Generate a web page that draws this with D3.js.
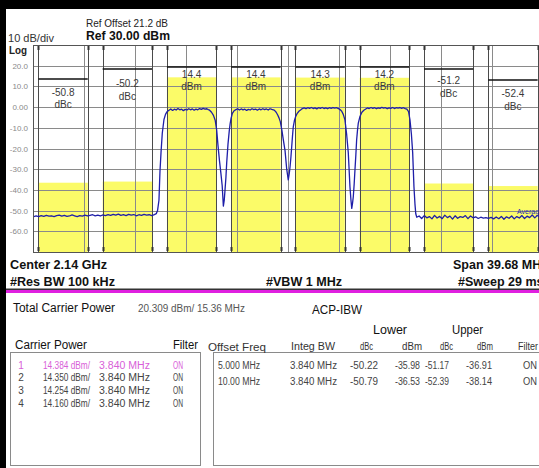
<!DOCTYPE html>
<html><head><meta charset="utf-8">
<script src="https://cdn.jsdelivr.net/npm/d3@7"></script>
<style>
html,body{margin:0;padding:0;background:#fff;overflow:hidden}
svg{display:block;font-family:"Liberation Sans",Arial,sans-serif}
</style></head><body>
<svg id="c" width="539" height="468"></svg>
<script>
// ---------- analyzer settings ----------
const spanMHz = [-19.84, 19.84];          // centre 2.14 GHz, span 39.68 MHz
const refLevel = 30;                      // dBm
const dbPerDiv = 10;
const divisions = 10;
const yTickValues = [20, 10, 0, -10, -20, -30, -40, -50, -60];
const yTickLabels = ["20.0", "10.0", "0.00", "-10.0", "-20.0", "-30.0", "-40.0", "-50.0", "-60.0"];

// ---------- ACP measurement results ----------
const integBW = 3.84;                     // MHz
const carrierCenters = [-7.5, -2.5, 2.5, 7.5];
const carrierPower = [14.384, 14.350, 14.254, 14.160];
const carrierReadout = ["14.4", "14.4", "14.3", "14.2"];
const offsetFreq = [5, 10];               // MHz from outer carriers
const offsetFreqLabels = ["5.000 MHz", "10.00 MHz"];
const lowerCenters = [-12.5, -17.5];
const upperCenters = [12.5, 17.5];
const lowerDbc = [-50.22, -50.79];
const lowerDbm = [-35.98, -36.53];
const upperDbc = [-51.17, -52.39];
const upperDbm = [-36.91, -38.14];
const totalCarrierPower = 20.309;
const totalBW = 15.36;
// level of the bracket bar drawn above each channel (L10, L5, C1..C4, U5, U10)
const bracketLevels = [13.6, 18.4, 19.4, 19.4, 19.4, 19.4, 18.4, 13.1];

// ---------- swept trace [offset MHz, dBm] ----------
const trace = [
  [-19.84,-53.0],[-19.6,-52.6],[-19.4,-52.9],[-19.2,-52.4],[-19.0,-52.8],[-18.8,-52.3],[-18.6,-52.7],
  [-18.4,-52.5],[-18.2,-52.9],[-18.0,-52.4],[-17.8,-52.2],[-17.6,-52.7],[-17.4,-52.3],[-17.2,-52.8],
  [-17.0,-52.6],[-16.8,-52.1],[-16.6,-52.5],[-16.4,-52.9],[-16.2,-52.4],[-16.0,-52.7],[-15.8,-52.2],
  [-15.6,-52.6],[-15.4,-52.3],[-15.2,-52.0],[-15.0,-52.5],[-14.8,-52.2],[-14.6,-52.6],[-14.4,-52.1],
  [-14.2,-52.4],[-14.0,-51.9],[-13.8,-52.3],[-13.6,-51.8],[-13.4,-52.2],[-13.2,-51.7],[-13.0,-52.3],
  [-12.8,-52.0],[-12.6,-52.4],[-12.4,-51.8],[-12.2,-52.2],[-12.0,-51.9],[-11.8,-52.5],[-11.6,-52.0],
  [-11.4,-52.3],[-11.2,-51.8],[-11.0,-52.2],[-10.8,-52.0],[-10.6,-52.4],[-10.4,-51.9],[-10.25,-51.5],
  [-10.15,-50.0],[-10.04,-45.0],[-9.96,-31.0],[-9.88,-22.0],[-9.78,-12.5],[-9.65,-6.0],[-9.53,-3.5],
  [-9.41,-2.2],
  [-9.26,-1.5],[-9.12,-0.9],[-8.98,-1.6],[-8.84,-1.0],[-8.7,-1.4],[-8.56,-0.7],[-8.42,-1.3],[-8.28,-1.0],
  [-8.14,-1.7],[-8.0,-1.1],[-7.86,-1.4],[-7.72,-0.8],[-7.58,-1.3],[-7.44,-0.9],[-7.3,-1.5],[-7.16,-1.0],
  [-7.02,-1.3],[-6.88,-0.7],[-6.74,-1.1],[-6.6,-0.6],[-6.46,-1.0],[-6.32,-0.8],[-6.2,-1.2],
  [-6.1,-1.5],[-5.95,-2.5],[-5.8,-4.0],[-5.66,-6.5],[-5.55,-11.0],[-5.44,-19.0],[-5.33,-26.0],
  [-5.22,-32.0],[-5.12,-38.0],[-5.03,-47.8],[-4.96,-45.0],[-4.9,-40.0],[-4.83,-34.0],[-4.77,-27.0],
  [-4.67,-18.0],[-4.57,-11.5],[-4.5,-8.0],[-4.43,-5.5],[-4.33,-3.0],[-4.2,-1.8],
  [-4.05,-1.2],[-3.92,-0.8],[-3.78,-1.4],[-3.64,-0.9],[-3.5,-1.3],[-3.36,-1.0],[-3.22,-1.6],[-3.08,-1.1],
  [-2.94,-1.4],[-2.8,-0.8],[-2.66,-1.2],[-2.52,-1.0],[-2.38,-1.5],[-2.24,-0.9],[-2.1,-1.3],[-1.96,-0.8],
  [-1.82,-1.2],[-1.68,-0.9],[-1.54,-1.4],[-1.4,-0.8],[-1.26,-1.1],[-1.14,-1.3],
  [-1.05,-1.6],[-0.92,-2.5],[-0.8,-3.8],[-0.7,-5.2],[-0.6,-7.0],[-0.48,-11.0],[-0.36,-16.0],
  [-0.23,-21.0],[-0.1,-30.0],[0.02,-35.2],[0.1,-32.0],[0.16,-28.8],[0.23,-24.0],[0.29,-19.0],
  [0.35,-14.0],[0.41,-9.5],[0.5,-6.5],[0.6,-4.5],[0.72,-3.0],[0.85,-2.0],
  [1.0,-1.3],[1.12,-0.7],[1.26,-0.4],[1.4,-0.8],[1.54,-0.3],[1.68,-0.6],[1.82,-0.2],[1.96,-0.7],
  [2.1,-0.4],[2.24,-0.9],[2.38,-0.3],[2.52,-0.6],[2.66,-0.2],[2.8,-0.7],[2.94,-0.4],[3.08,-0.8],
  [3.22,-0.3],[3.36,-0.6],[3.5,-0.2],[3.64,-0.5],[3.78,-0.3],[3.92,-0.7],
  [4.05,-1.2],[4.18,-2.0],[4.3,-3.5],[4.43,-6.2],[4.56,-13.0],[4.69,-22.0],[4.82,-38.5],[4.9,-45.0],
  [4.96,-48.9],[5.02,-46.5],[5.08,-43.3],[5.15,-37.0],[5.21,-30.4],[5.28,-23.0],[5.34,-15.9],
  [5.41,-11.0],[5.47,-7.7],[5.6,-4.5],[5.75,-2.5],[5.9,-1.5],
  [6.05,-0.9],[6.18,-0.4],[6.32,-0.7],[6.46,-0.2],[6.6,-0.6],[6.74,-0.3],[6.88,-0.8],[7.02,-0.4],
  [7.16,-0.6],[7.3,-0.1],[7.44,-0.5],[7.58,-0.3],[7.72,-0.8],[7.86,-0.4],[8.0,-0.6],[8.14,-0.2],
  [8.28,-0.7],[8.42,-0.3],[8.56,-0.5],[8.7,-0.2],[8.84,-0.6],[8.98,-0.3],[9.12,-0.7],[9.25,-1.0],
  [9.38,-2.2],[9.49,-6.2],[9.6,-13.0],[9.7,-22.0],[9.8,-38.5],[9.88,-47.0],[9.94,-51.5],[10.02,-53.2],
  [10.2,-52.6],[10.4,-53.8],[10.6,-52.4],[10.8,-53.5],[11.0,-52.9],[11.2,-54.0],[11.4,-52.3],
  [11.6,-53.6],[11.8,-52.8],[12.0,-53.9],[12.2,-52.2],[12.4,-53.4],[12.6,-52.7],[12.8,-54.1],
  [13.0,-52.5],[13.2,-53.7],[13.4,-52.9],[13.6,-53.3],[13.8,-52.4],[14.0,-53.9],[14.2,-52.6],
  [14.4,-53.5],[14.6,-53.0],[14.8,-53.8],[15.0,-53.2],[15.2,-53.6],[15.4,-53.4],[15.6,-53.7],
  [15.8,-53.3],[16.0,-54.0],[16.2,-53.1],[16.4,-53.9],[16.6,-52.8],[16.8,-54.2],[17.0,-53.0],
  [17.2,-53.7],[17.4,-52.6],[17.6,-54.0],[17.8,-52.9],[18.0,-53.6],[18.2,-52.4],[18.4,-53.8],
  [18.6,-52.7],[18.8,-53.4],[19.0,-52.1],[19.2,-53.5],[19.4,-52.3],[19.6,-53.2],[19.84,-52.6]
];

// ---------- layout ----------
const plot = {left: 33, right: 543, top: 45, bottom: 252};
const yellow = "#fbfb68";
const svg = d3.select("#c");

const x = d3.scaleLinear().domain(spanMHz).range([plot.left, plot.right]);
const y = d3.scaleLinear().domain([refLevel - dbPerDiv * divisions, refLevel]).range([plot.bottom, plot.top]);

function txt(parent, s, tx, ty, o = {}) {
  const t = parent.append("text").attr("x", tx).attr("y", ty).text(s)
    .attr("font-size", o.size || 10)
    .attr("fill", o.fill || "#222")
    .attr("font-weight", o.weight || "normal")
    .attr("text-anchor", o.anchor || "start")
    .attr("dominant-baseline", "central");
  if (o.w) t.attr("textLength", o.w).attr("lengthAdjust", "spacingAndGlyphs");
  return t;
}

// channel list in display order: L10, L5, C1..C4, U5, U10
const chCenters = [lowerCenters[1], lowerCenters[0], ...carrierCenters, upperCenters[0], upperCenters[1]];
const chPower = [lowerDbm[1], lowerDbm[0], ...carrierPower, upperDbm[0], upperDbm[1]];
const chValue = [lowerDbc[1], lowerDbc[0], null, null, null, null, upperDbc[0], upperDbc[1]]
  .map((v, i) => v === null ? carrierReadout[i - 2] : v.toFixed(1));
const chUnit = ["dBc", "dBc", "dBm", "dBm", "dBm", "dBm", "dBc", "dBc"];
const readoutY = [[92, 104], [83, 96], [74, 86], [74, 86], [74, 86], [74, 86], [80, 93], [93, 106]];

const defs = svg.append("defs");
defs.append("clipPath").attr("id", "plotClip").append("rect")
  .attr("x", plot.left).attr("y", plot.top)
  .attr("width", plot.right - plot.left).attr("height", plot.bottom - plot.top);

const pg = svg.append("g").attr("clip-path", "url(#plotClip)");

// yellow channel-power bars
pg.selectAll("rect.bar").data(chCenters).join("rect").attr("class", "bar")
  .attr("x", d => x(d - integBW / 2))
  .attr("width", d => x(d + integBW / 2) - x(d - integBW / 2))
  .attr("y", (d, i) => y(chPower[i]))
  .attr("height", (d, i) => plot.bottom - y(chPower[i]))
  .attr("fill", yellow);

// graticule
const gridX = d3.range(divisions + 1).map(k => spanMHz[0] + k * (spanMHz[1] - spanMHz[0]) / divisions);
const gridY = d3.range(divisions + 1).map(k => refLevel - k * dbPerDiv);
pg.selectAll("line.gx").data(gridX).join("line")
  .attr("x1", d => Math.round(x(d)) + 0.5).attr("x2", d => Math.round(x(d)) + 0.5)
  .attr("y1", plot.top).attr("y2", plot.bottom)
  .attr("stroke", "#8a8a8a").attr("stroke-width", 1);
pg.selectAll("line.gy").data(gridY).join("line")
  .attr("y1", d => Math.round(y(d)) + 0.5).attr("y2", d => Math.round(y(d)) + 0.5)
  .attr("x1", plot.left).attr("x2", plot.right)
  .attr("stroke", "#8a8a8a").attr("stroke-width", 1);

// channel edges
const edges = chCenters.flatMap(c => [c - integBW / 2, c + integBW / 2]);
pg.selectAll("line.edge").data(edges).join("line")
  .attr("x1", d => Math.round(x(d)) + 0.5).attr("x2", d => Math.round(x(d)) + 0.5)
  .attr("y1", plot.top).attr("y2", plot.bottom)
  .attr("stroke", "#4a4a4a").attr("stroke-width", 1);
pg.selectAll("rect.tickT").data(edges).join("rect")
  .attr("x", d => Math.round(x(d)) - 0.5).attr("y", plot.top + 1)
  .attr("width", 2).attr("height", 4).attr("fill", "#333");
pg.selectAll("rect.tickB").data(edges).join("rect")
  .attr("x", d => Math.round(x(d)) - 0.5).attr("y", plot.bottom - 5)
  .attr("width", 2).attr("height", 4).attr("fill", "#333");

// bracket bars
pg.selectAll("line.br").data(chCenters).join("line")
  .attr("x1", d => x(d - integBW / 2)).attr("x2", d => x(d + integBW / 2))
  .attr("y1", (d, i) => y(bracketLevels[i])).attr("y2", (d, i) => y(bracketLevels[i]))
  .attr("stroke", "#111").attr("stroke-width", 1.5);

// readouts
chCenters.forEach((c, i) => {
  txt(pg, chValue[i], x(c), readoutY[i][0], {size: 10, fill: "#3a3a3a", anchor: "middle"});
  txt(pg, chUnit[i], x(c), readoutY[i][1], {size: 10, fill: "#3a3a3a", anchor: "middle"});
});

// trace
pg.append("path").datum(trace)
  .attr("d", d3.line().x(d => x(d[0])).y(d => y(d[1])))
  .attr("fill", "none").attr("stroke", "#1e1ea8").attr("stroke-width", 1.3)
  .attr("stroke-linejoin", "round");
txt(pg, "Average", 517, 211, {size: 7, fill: "#2a2ab0"});

// plot frame
svg.append("rect").attr("x", plot.left + 0.5).attr("y", plot.top + 0.5)
  .attr("width", plot.right - plot.left).attr("height", plot.bottom - plot.top)
  .attr("fill", "none").attr("stroke", "#555");

// y-axis labels
const yAxis = d3.axisLeft(y).tickValues(yTickValues)
  .tickFormat((d, i) => yTickLabels[i]).tickSize(0).tickPadding(5);
const ya = svg.append("g").attr("transform", `translate(${plot.left},0)`).call(yAxis);
ya.select(".domain").remove();
ya.selectAll("text").attr("font-size", 8).attr("fill", "#8a8a8a")
  .attr("font-family", "Liberation Sans, Arial, sans-serif");

// header
svg.append("rect").attr("x", 0).attr("y", 0).attr("width", 539).attr("height", 9).attr("fill", "#000");
svg.append("rect").attr("x", 0).attr("y", 0).attr("width", 6).attr("height", 468).attr("fill", "#000");
txt(svg, "10 dB/div", 8, 38, {size: 10.5, fill: "#333", w: 46});
txt(svg, "Log", 9, 50, {size: 10.5, fill: "#222", weight: "bold", w: 18});
txt(svg, "Ref Offset 21.2 dB", 86, 23, {size: 11, fill: "#222", w: 82});
txt(svg, `Ref ${refLevel.toFixed(2)} dBm`, 86, 36, {size: 12.5, fill: "#111", weight: "bold", w: 84});

// settings below the graticule
txt(svg, "Center 2.14 GHz", 10, 265, {size: 12.5, weight: "bold", fill: "#111", w: 97});
txt(svg, "#Res BW 100 kHz", 10, 282, {size: 12.5, weight: "bold", fill: "#111", w: 105});
txt(svg, "#VBW 1 MHz", 266, 282, {size: 12.5, weight: "bold", fill: "#111", w: 76});
txt(svg, "Span 39.68 MHz", 453, 265, {size: 12.5, weight: "bold", fill: "#111"});
txt(svg, "#Sweep 29 ms", 458, 282, {size: 12.5, weight: "bold", fill: "#111"});

svg.append("rect").attr("x", 6).attr("y", 288.5).attr("width", 533).attr("height", 1.5).attr("fill", "#333");
svg.append("rect").attr("x", 6).attr("y", 290).attr("width", 533).attr("height", 3).attr("fill", "#e020e0");

// results panel
txt(svg, "Total Carrier Power", 13, 308, {size: 12, fill: "#111", w: 102});
txt(svg, `${totalCarrierPower.toFixed(3)} dBm/ ${totalBW.toFixed(2)} MHz`, 138, 308, {size: 10, fill: "#555", w: 107});
txt(svg, "ACP-IBW", 312, 310, {size: 12, fill: "#111", w: 50});
txt(svg, "Lower", 373, 330, {size: 12, fill: "#111", w: 34});
txt(svg, "Upper", 452, 330, {size: 12, fill: "#111", w: 31});

txt(svg, "Carrier Power", 15, 345, {size: 12, fill: "#111", w: 72});
txt(svg, "Filter", 173, 345, {size: 12, fill: "#111", w: 25});

svg.append("rect").attr("x", 10.5).attr("y", 352.5).attr("width", 190).attr("height", 113)
  .attr("fill", "#fff").attr("stroke", "#8a8a8a");
svg.append("rect").attr("x", 213.5).attr("y", 352.5).attr("width", 340).attr("height", 113)
  .attr("fill", "#fff").attr("stroke", "#8a8a8a");

const rowY = [365, 377.8, 390.6, 403.4];
carrierPower.forEach((p, i) => {
  const col = i === 0 ? "#d860d8" : "#444";
  txt(svg, String(i + 1), 21, rowY[i], {size: 10, fill: col, anchor: "middle"});
  txt(svg, `${p.toFixed(3)} dBm/`, 43, rowY[i], {size: 10, fill: col, w: 47});
  txt(svg, `${integBW.toFixed(3)} MHz`, 99, rowY[i], {size: 10, fill: col, w: 51});
  txt(svg, "ON", 173, rowY[i], {size: 10, fill: col, w: 10});
});

const hdr = {size: 10, fill: "#333"};
txt(svg, "Offset Freq", 208, 347, {...hdr, w: 58});
txt(svg, "Integ BW", 291, 346, {...hdr, w: 44});
txt(svg, "dBc", 360, 346, {...hdr, w: 13});
txt(svg, "dBm", 402, 346, {...hdr, w: 20});
txt(svg, "dBc", 440, 346, {...hdr, w: 13});
txt(svg, "dBm", 477, 346, {...hdr, w: 16});
txt(svg, "Filter", 518, 346, {...hdr, w: 20});

const acpY = [365, 381.5];
offsetFreq.forEach((f, i) => {
  const o = {size: 10, fill: "#444"};
  txt(svg, offsetFreqLabels[i], 218, acpY[i], {...o, w: 42});
  txt(svg, `${integBW.toFixed(3)} MHz`, 290, acpY[i], {...o, w: 47});
  txt(svg, lowerDbc[i].toFixed(2), 378, acpY[i], {...o, anchor: "end", w: 28});
  txt(svg, lowerDbm[i].toFixed(2), 420, acpY[i], {...o, anchor: "end", w: 25});
  txt(svg, upperDbc[i].toFixed(2), 449, acpY[i], {...o, anchor: "end", w: 24});
  txt(svg, upperDbm[i].toFixed(2), 492, acpY[i], {...o, anchor: "end", w: 26});
  txt(svg, "ON", 537, acpY[i], {...o, anchor: "end", w: 14});
});
</script>
</body></html>
